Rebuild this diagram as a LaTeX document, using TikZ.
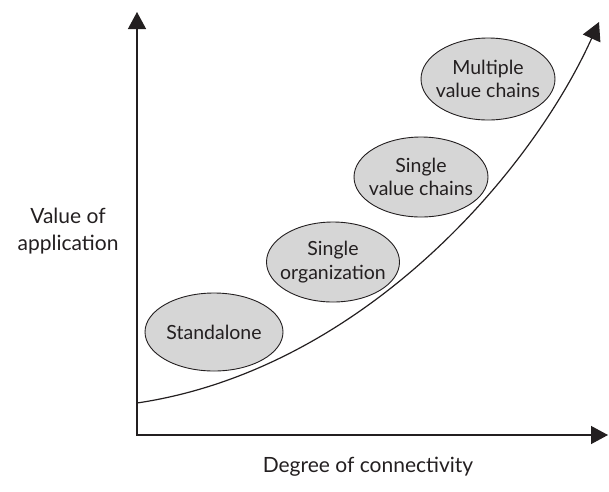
\documentclass[tikz,border=0pt]{standalone}
\usepackage{fontspec}
\setmainfont{Lato}
\usepackage{tikz}
\usetikzlibrary{shapes.geometric, arrows.meta, positioning}
\definecolor{ovalgray}{RGB}{214,214,214}
\definecolor{inkgray}{RGB}{35,31,32}

\begin{document}
\begin{tikzpicture}[
    x=1pt, y=-1pt,
    stage/.style={ellipse, draw=inkgray, fill=ovalgray, line width=0.9pt,
                  minimum width=134pt, minimum height=80pt,
                  inner sep=-18pt, align=center, font=\fontsize{19.5}{23.5}\selectfont, text=inkgray},
    axislabel/.style={align=center, font=\fontsize{21}{27}\selectfont, text=inkgray},
    axis/.style={{Triangle[width=18pt,length=17pt]}-{Triangle[width=18pt,length=17pt]},
                 line width=1.3pt, color=inkgray},
    growth/.style={-{Triangle[width=19pt,length=18pt]}, line width=1.2pt, color=inkgray}
]
\useasboundingbox (0,0) rectangle (609,491);

% axes
\coordinate (ytop) at (137,12);
\coordinate (origin) at (137,435);
\coordinate (xend) at (608,435);
\draw[axis] (ytop) -- (origin) -- (xend);

% growth curve
\coordinate (cstart) at (137,403);
\coordinate (cend) at (599,22);
\draw[growth] (cstart) .. controls (360,370) and (530,175) .. (cend);

% stages
\node[stage, minimum width=138pt, minimum height=78pt] (standalone) at (214,332) {Standalone};
\node[stage, minimum width=133pt, minimum height=80pt] (singleorg) at (333,262) {Single\\organization};
\node[stage] (singlevc) at (421,177) {Single\\value chains};
\node[stage, minimum height=82pt] (multivc) at (488,79) {Multiple\\value chains};

% axis labels
\node[axislabel] (ylabel) at (68,231) {Value of\\application};
\node[axislabel] (xlabel) at (368,467) {Degree of connectivity};

\end{tikzpicture}
\end{document}
